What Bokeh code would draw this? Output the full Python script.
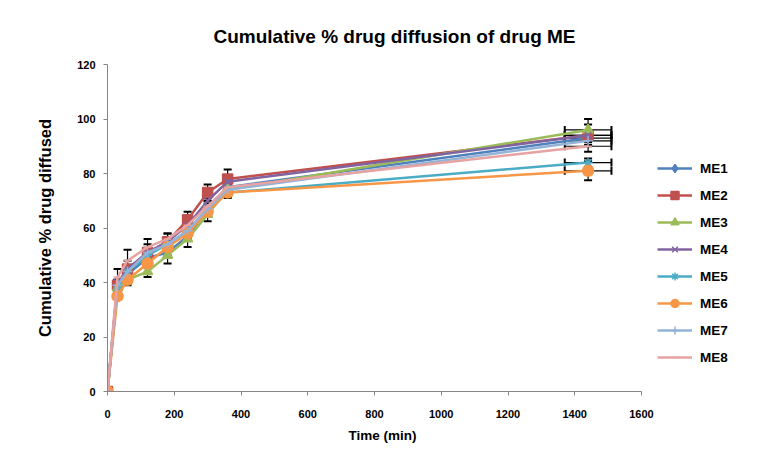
from bokeh.plotting import figure
from bokeh.models import Range1d, FixedTicker, Legend, LegendItem, Whisker, ColumnDataSource, TeeHead, Title
from bokeh.embed import file_html
from bokeh.resources import INLINE

times = [0, 30, 60, 120, 180, 240, 300, 360, 1440]
series_names = ["ME1", "ME2", "ME3", "ME4", "ME5", "ME6", "ME7", "ME8"]
me1 = [0, 39, 43, 49, 51, 57, 67, 75, 93]
me2 = [0, 39, 45, 51, 55, 63, 73, 78, 94]
me3 = [0, 38, 41, 44, 50, 56, 65, 74, 96]
me4 = [0, 40, 45, 51, 55, 61, 70, 77, 94]
me5 = [0, 38, 44, 50, 54, 59, 67, 73, 84]
me6 = [0, 35, 41, 47, 53, 58, 66, 73, 81]
me7 = [0, 39, 44, 51, 54, 59, 67, 74, 92]
me8 = [0, 42, 48, 53, 56, 61, 68, 75, 90]
values = [me1, me2, me3, me4, me5, me6, me7, me8]

err1 = [0, 1, 1, 1, 1, 1, 1, 1, 1.5]
err2 = [0, 2, 3, 3, 3, 3, 3, 3.5, 4]
err3 = [0, 1.5, 2, 2, 3, 3, 2.5, 3, 4]
err4 = [0, 1, 1, 1, 1, 1, 1, 1, 1.5]
err5 = [0, 1, 1, 1, 1, 1, 1, 1, 1.5]
err6 = [0, 1, 1.5, 1.5, 1.5, 1.5, 1.5, 1.5, 3.5]
err7 = [0, 1, 1, 1, 1, 1, 1, 1, 1.5]
err8 = [0, 3, 4, 3, 2, 2, 2, 2, 2]
errors = [err1, err2, err3, err4, err5, err6, err7, err8]
time_err_last = 70

x_ticks = [0, 200, 400, 600, 800, 1000, 1200, 1400, 1600]
y_ticks = [0, 20, 40, 60, 80, 100, 120]

colors = ["#4F81BD", "#C0504D", "#9BBB59", "#8064A2", "#4BACC6", "#F79646", "#95B3D7", "#E6A3A1"]
markers = ["diamond", "square", "triangle", "x", "asterisk", "circle", "cross", "dash"]
sizes = [9, 10, 10, 9, 9, 11, 10, 8]

FONT = "Liberation Sans"

# the drawing area runs on past the x axis so that the legend sits inside it
AXIS_PX = 534
FRAME_PX = 633
x_end = x_ticks[-1] * FRAME_PX / AXIS_PX

p = figure(frame_width=FRAME_PX, frame_height=327, output_backend="svg", toolbar_location=None,
           x_range=Range1d(0, x_end), y_range=Range1d(0, 120),
           min_border_left=107, min_border_right=8, min_border_top=64, min_border_bottom=10,
           title="Cumulative % drug diffusion of drug ME")
p.title.align = "left"
p.title.offset = 106
p.title.standoff = 35
p.title.text_font = FONT
p.title.text_font_size = "19px"
p.title.text_font_style = "bold"
p.title.text_color = "#000000"

p.grid.visible = False
p.outline_line_color = None
p.background_fill_color = "white"
p.border_fill_color = "white"

p.xaxis.ticker = FixedTicker(ticks=x_ticks)
p.yaxis.ticker = FixedTicker(ticks=y_ticks)
p.xaxis.bounds = (x_ticks[0], x_ticks[-1])
for ax in (p.xaxis[0], p.yaxis[0]):
    ax.axis_line_color = "#868686"
    ax.major_tick_line_color = "#868686"
    ax.minor_tick_line_color = None
    ax.major_tick_out = 4
    ax.major_tick_in = 0
    ax.major_label_text_font = FONT
    ax.major_label_text_font_style = "bold"
    ax.major_label_text_font_size = "11px"
    ax.major_label_text_color = "#000000"
    ax.axis_label_text_font = FONT
    ax.axis_label_text_font_style = "bold"
    ax.axis_label_text_color = "#000000"
p.yaxis.axis_label = "Cumulative % drug diffused"
p.yaxis.axis_label_text_font_size = "16.5px"
p.xaxis.major_label_standoff = 14
p.yaxis.major_label_standoff = 8
p.yaxis.axis_label_standoff = 20

xlab = Title(text="Time (min)", align="left", offset=241, standoff=11,
             text_font=FONT, text_font_size="13.5px", text_font_style="bold", text_color="#000000")
p.add_layout(xlab, "below")

items = []
for name, vals, errs, col, mk, sz in zip(series_names, values, errors, colors, markers, sizes):
    src = ColumnDataSource(dict(
        x=times, y=vals,
        upper=[v + e for v, e in zip(vals, errs)],
        lower=[v - e for v, e in zip(vals, errs)],
    ))
    wv = Whisker(base="x", upper="upper", lower="lower", source=src, dimension="height",
                 line_color="black", line_width=1.2, level="underlay",
                 upper_head=TeeHead(size=8, line_color="black", line_width=2),
                 lower_head=TeeHead(size=8, line_color="black", line_width=2))
    p.add_layout(wv)
    last = ColumnDataSource(dict(y=[vals[-1]], xl=[times[-1] - time_err_last], xu=[times[-1] + time_err_last]))
    wh = Whisker(base="y", upper="xu", lower="xl", source=last, dimension="width",
                 line_color="black", line_width=1.2, level="underlay",
                 upper_head=TeeHead(size=8, line_color="black", line_width=2),
                 lower_head=TeeHead(size=8, line_color="black", line_width=2))
    p.add_layout(wh)
    r_line = p.line("x", "y", source=src, line_color=col, line_width=2.5)
    r_mark = p.scatter("x", "y", source=src, marker=mk, size=sz,
                       fill_color=col, line_color=col, line_width=1.5)
    items.append(LegendItem(label=name, renderers=[r_line, r_mark]))

legend = Legend(items=items, location=(550, 24), padding=0, margin=0, spacing=7,
                glyph_width=35, glyph_height=20, label_height=20, label_standoff=8,
                border_line_color=None, background_fill_alpha=0,
                label_text_font=FONT, label_text_font_style="bold",
                label_text_font_size="13.5px", label_text_color="#000000")
p.add_layout(legend)

open("out.html", "w").write(file_html(p, INLINE))
